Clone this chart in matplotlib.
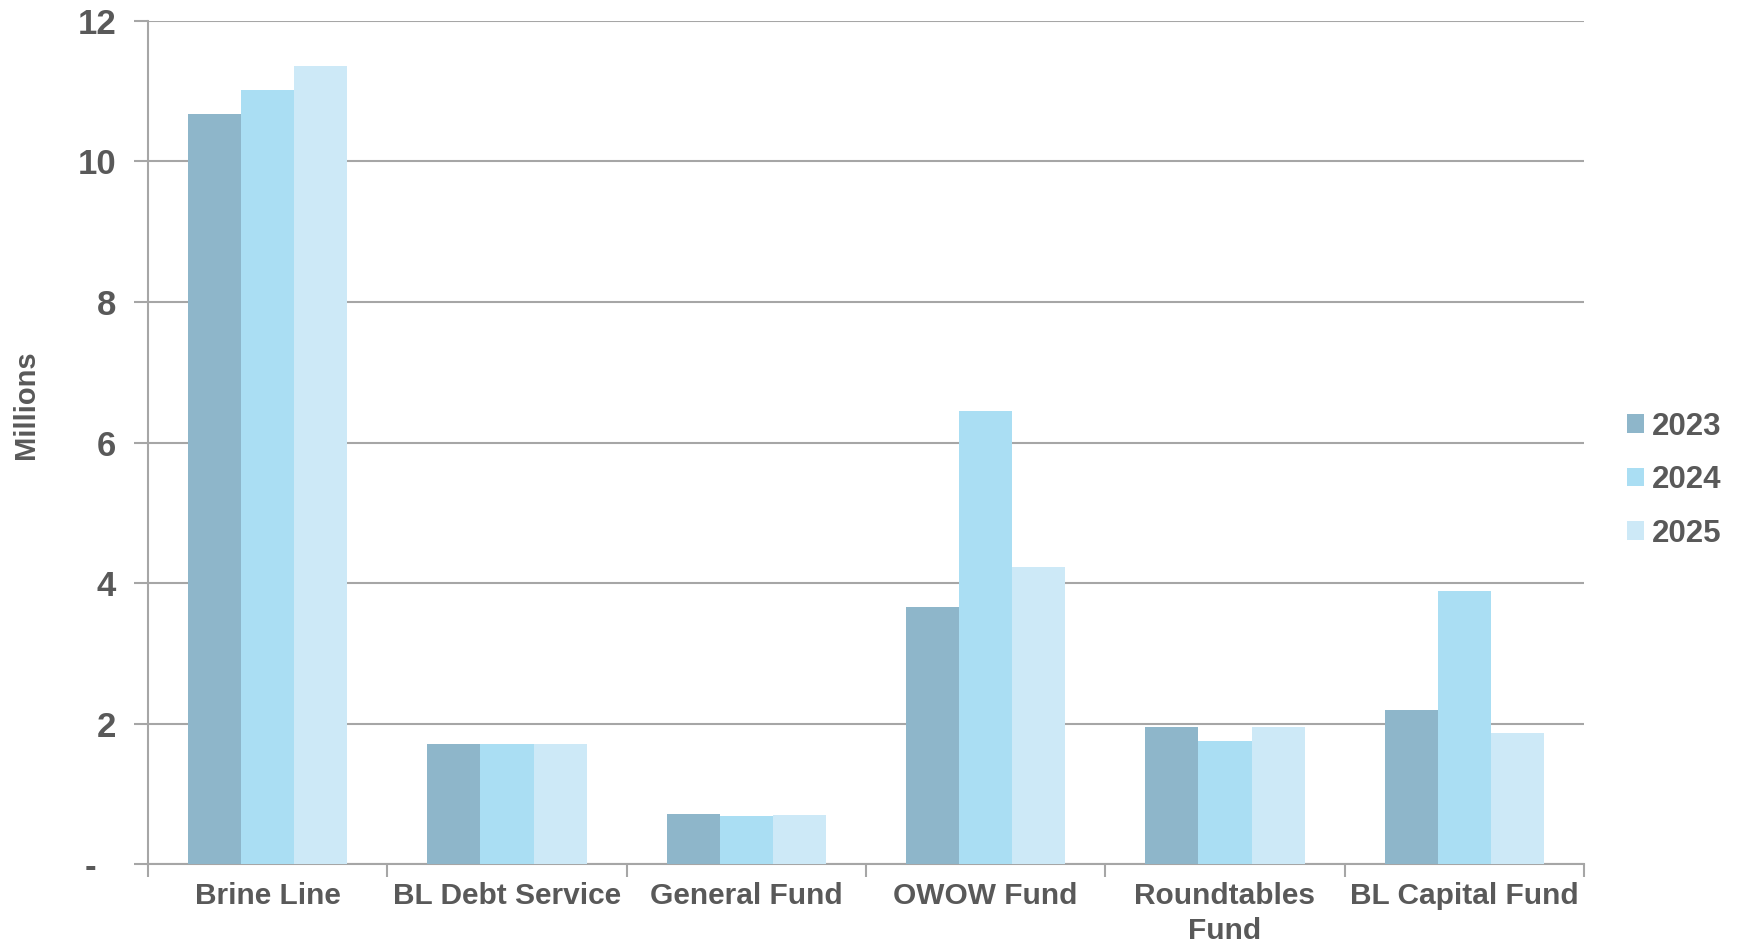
import numpy as np
import matplotlib.pyplot as plt
from matplotlib.ticker import FixedLocator

params = {'font.family': ['Liberation Sans', 'DejaVu Sans'], 'font.weight': 'bold',
          'axes.labelweight': 'bold'}
plt.rcParams.update(params)

# values in millions
categories = ['Brine Line', 'BL Debt Service', 'General Fund', 'OWOW Fund',
              'Roundtables\nFund', 'BL Capital Fund']
years = ['2023', '2024', '2025']
vals2023 = [10.68, 1.71, 0.72, 3.66, 1.95, 2.20]
vals2024 = [11.01, 1.71, 0.69, 6.45, 1.76, 3.89]
vals2025 = [11.36, 1.71, 0.70, 4.23, 1.95, 1.87]
yticks = [0, 2, 4, 6, 8, 10, 12]
yticklabels = ['-  ', '2', '4', '6', '8', '10', '12']

colors = ['#8EB6CA', '#AADEF3', '#CDE9F7']
textColor = '#595959'
gridColor = '#A6A6A6'

fig = plt.figure(figsize=(17.41, 9.47), dpi=100)
ax = fig.add_axes([0.085, 0.0873, 0.8248, 0.8907])

x = np.arange(len(categories))
barW = 1 / 4.5
for i, vals in enumerate([vals2023, vals2024, vals2025]):
    ax.bar(x + (i - 1) * barW, vals, width=barW, color=colors[i], label=years[i],
           zorder=3, edgecolor='none')

ax.set_xlim(-0.5, len(categories) - 0.5)
ax.set_ylim(0, 12)
ax.set_yticks(yticks)
ax.set_yticklabels(yticklabels)
ax.yaxis.grid(True, color=gridColor, linewidth=1.5, zorder=0)
ax.set_axisbelow(True)

ax.set_xticks(x)
ax.set_xticklabels(categories, linespacing=1.3)
ax.xaxis.set_minor_locator(FixedLocator(np.arange(-0.5, len(categories), 1.0)))
ax.tick_params(axis='x', which='major', length=0, pad=13, labelsize=21.5, labelcolor=textColor)
ax.tick_params(axis='x', which='minor', length=9, width=1.5, color=gridColor)
ax.tick_params(axis='y', length=10, width=1.5, color=gridColor, pad=13,
               labelsize=25, labelcolor=textColor)

for s in ['top', 'right']:
    ax.spines[s].set_visible(False)
for s in ['left', 'bottom']:
    ax.spines[s].set_color(gridColor)
    ax.spines[s].set_linewidth(1.5)

ax.set_ylabel('Millions', fontsize=21, color=textColor)
ax.yaxis.set_label_coords(-0.0755, 0.545)

leg = fig.legend(loc='center left', bbox_to_anchor=(0.9345, 0.493), frameon=False,
                 fontsize=22.5, handlelength=0.55, handleheight=0.55, handletextpad=0.25,
                 labelspacing=0.75, borderaxespad=0, borderpad=0)
for t in leg.get_texts():
    t.set_color(textColor)

plt.savefig('out.png', dpi=100)
